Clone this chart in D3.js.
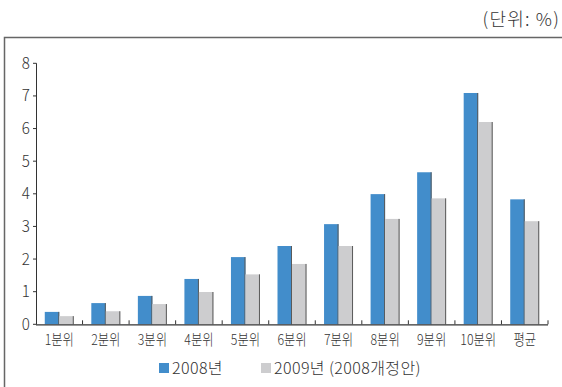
<!DOCTYPE html>
<html>
<head>
<meta charset="utf-8">
<script src="https://cdn.jsdelivr.net/npm/d3@7"></script>
<style>
  html, body { margin: 0; padding: 0; background: #fff; }
  svg { display: block; }
  text { font-family: "Noto Sans CJK KR", "Noto Sans", sans-serif; font-weight: 300; fill: #333; }
</style>
</head>
<body>
<svg id="chart" width="562" height="387"></svg>
<script>
// Income deciles and the two tax-year series (%)
const categories = ["1분위", "2분위", "3분위", "4분위", "5분위", "6분위", "7분위", "8분위", "9분위", "10분위", "평균"];
const series2008 = [0.38, 0.65, 0.87, 1.39, 2.06, 2.40, 3.07, 3.99, 4.66, 7.09, 3.83];
const series2009 = [0.25, 0.40, 0.62, 0.99, 1.53, 1.85, 2.40, 3.23, 3.86, 6.20, 3.16];
const seriesNames = ["2008년", "2009년 (2008개정안)"];
const yTicks = [0, 1, 2, 3, 4, 5, 6, 7, 8];
const unitLabel = "(단위: %)";

const colors = ["#428dcb", "#cdcdcf"];
const svg = d3.select("#chart");

// text helper: optional horizontal scaling and tracking
function label(parent, str, px, py, size, sx, anchor, spacing) {
  return parent.append("text")
    .attr("transform", `translate(${px},${py}) scale(${sx},1)`)
    .attr("text-anchor", anchor || "start")
    .attr("font-size", size)
    .attr("letter-spacing", spacing || 0)
    .text(str);
}

// outer frame: top and left rules
svg.append("path")
  .attr("d", "M4.5,387 V37.5 H562")
  .attr("fill", "none").attr("stroke", "#666").attr("stroke-width", 1.5);

// unit label
label(svg, unitLabel, 560, 26, 18, 1, "end", 1.2);

const x0 = 36, x1 = 548, yTop = 63.3, yBot = 324.3;
const x = d3.scaleBand().domain(categories).range([x0, x1]).paddingInner(0).paddingOuter(0);
const y = d3.scaleLinear().domain([0, 8]).range([yBot, yTop]);
const barW = 14.5;

const data = categories.map((c, i) => ({ c, v: [series2008[i], series2009[i]] }));

const g = svg.append("g");
data.forEach(d => {
  const cx = x(d.c) + x.bandwidth() / 2;
  d.v.forEach((v, k) => {
    const bx = cx - barW + k * barW;
    g.append("rect")
      .attr("x", bx).attr("y", y(v))
      .attr("width", barW).attr("height", yBot - y(v))
      .attr("fill", colors[k]);
    // shaded right edge
    g.append("line")
      .attr("x1", bx + barW - 0.5).attr("x2", bx + barW - 0.5)
      .attr("y1", y(v)).attr("y2", yBot)
      .attr("stroke", "#5a5a5a").attr("stroke-width", 1);
  });
});

// y axis
const yAxis = svg.append("g");
yAxis.append("line")
  .attr("x1", x0 + 0.5).attr("x2", x0 + 0.5)
  .attr("y1", yTop).attr("y2", yBot)
  .attr("stroke", "#333").attr("stroke-width", 1);
yTicks.forEach(t => {
  yAxis.append("line")
    .attr("x1", x0 - 3).attr("x2", x0 + 0.5)
    .attr("y1", y(t)).attr("y2", y(t))
    .attr("stroke", "#333");
  label(yAxis, String(t), 30, y(t) + 5.5, 16, 0.95, "end");
});

// x axis with upward ticks between categories
const xAxis = svg.append("g");
xAxis.append("line")
  .attr("x1", x0).attr("x2", x1)
  .attr("y1", yBot + 0.5).attr("y2", yBot + 0.5)
  .attr("stroke", "#333").attr("stroke-width", 1.2);
categories.forEach(c => {
  const tx = x(c) + x.bandwidth();
  xAxis.append("line")
    .attr("x1", tx).attr("x2", tx)
    .attr("y1", yBot - 4).attr("y2", yBot)
    .attr("stroke", "#333");
  label(xAxis, c, x(c) + x.bandwidth() / 2, 345, 15, 0.82, "middle");
});

// legend
const legendX = [159, 261];
seriesNames.forEach((n, k) => {
  svg.append("rect")
    .attr("x", legendX[k]).attr("y", 363)
    .attr("width", 10).attr("height", 10)
    .attr("fill", colors[k]);
  label(svg, n, legendX[k] + 13, 373.5, 16, 1, "start", 0.4);
});
</script>
</body>
</html>
